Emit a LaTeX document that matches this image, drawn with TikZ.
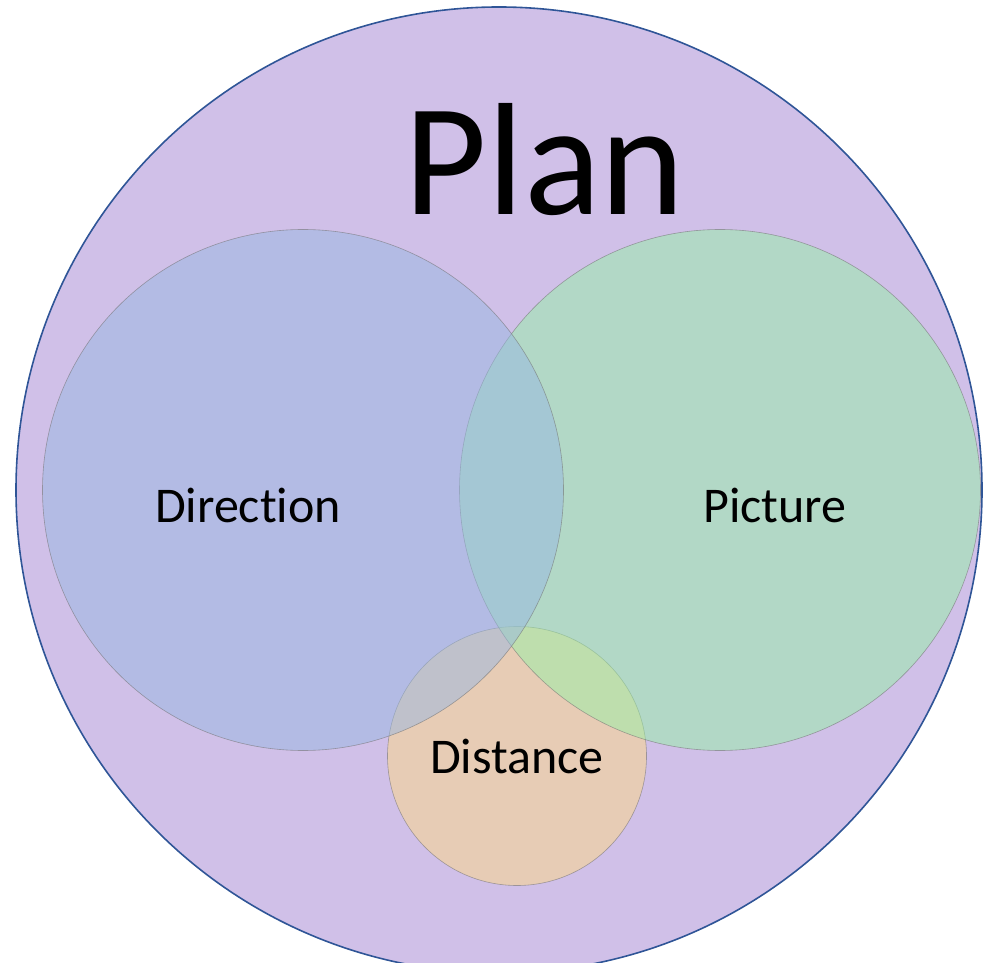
\documentclass[tikz,border=0pt]{standalone}
\usepackage{fontspec}
\setmainfont{Carlito}[Ligatures={NoCommon}]
\usepackage{tikz}
\usetikzlibrary{positioning}

\definecolor{planfill}{RGB}{208,192,232}
\definecolor{planedge}{RGB}{47,85,151}
\definecolor{dirfill}{RGB}{152,184,226}
\definecolor{picfill}{RGB}{150,240,166}
\definecolor{distfill}{RGB}{255,216,132}

\begin{document}
\begin{tikzpicture}[x=1pt, y=1pt,
    set/.style={circle, inner sep=0pt, draw=black!55, line width=0.6pt,
                draw opacity=0.6, fill opacity=0.5},
    setlabel/.style={anchor=base, font=\fontsize{50}{60}\selectfont}]
  \useasboundingbox (0,0) rectangle (984,962);

  % Outer set
  \node[circle, inner sep=0pt, minimum size=966pt, fill=planfill,
        draw=planedge, line width=1.6pt] (plan) at (499,472) {};
  \node[anchor=base, font=\fontsize{160}{190}\selectfont] (plantext) at (545,747) {Plan};

  % Inner sets
  \node[set, minimum size=259pt, fill=distfill] (distance) at (517,206) {};
  \node[set, minimum size=521pt, fill=picfill] (picture) at (720,472) {};
  \node[set, minimum size=521pt, fill=dirfill] (direction) at (303,472) {};

  % Labels
  \node[setlabel] (dirtext) at (248,439) {Direction};
  \node[setlabel] (pictext) at (775,439) {Picture};
  \node[setlabel] (disttext) at (517,189) {Distance};
\end{tikzpicture}
\end{document}
